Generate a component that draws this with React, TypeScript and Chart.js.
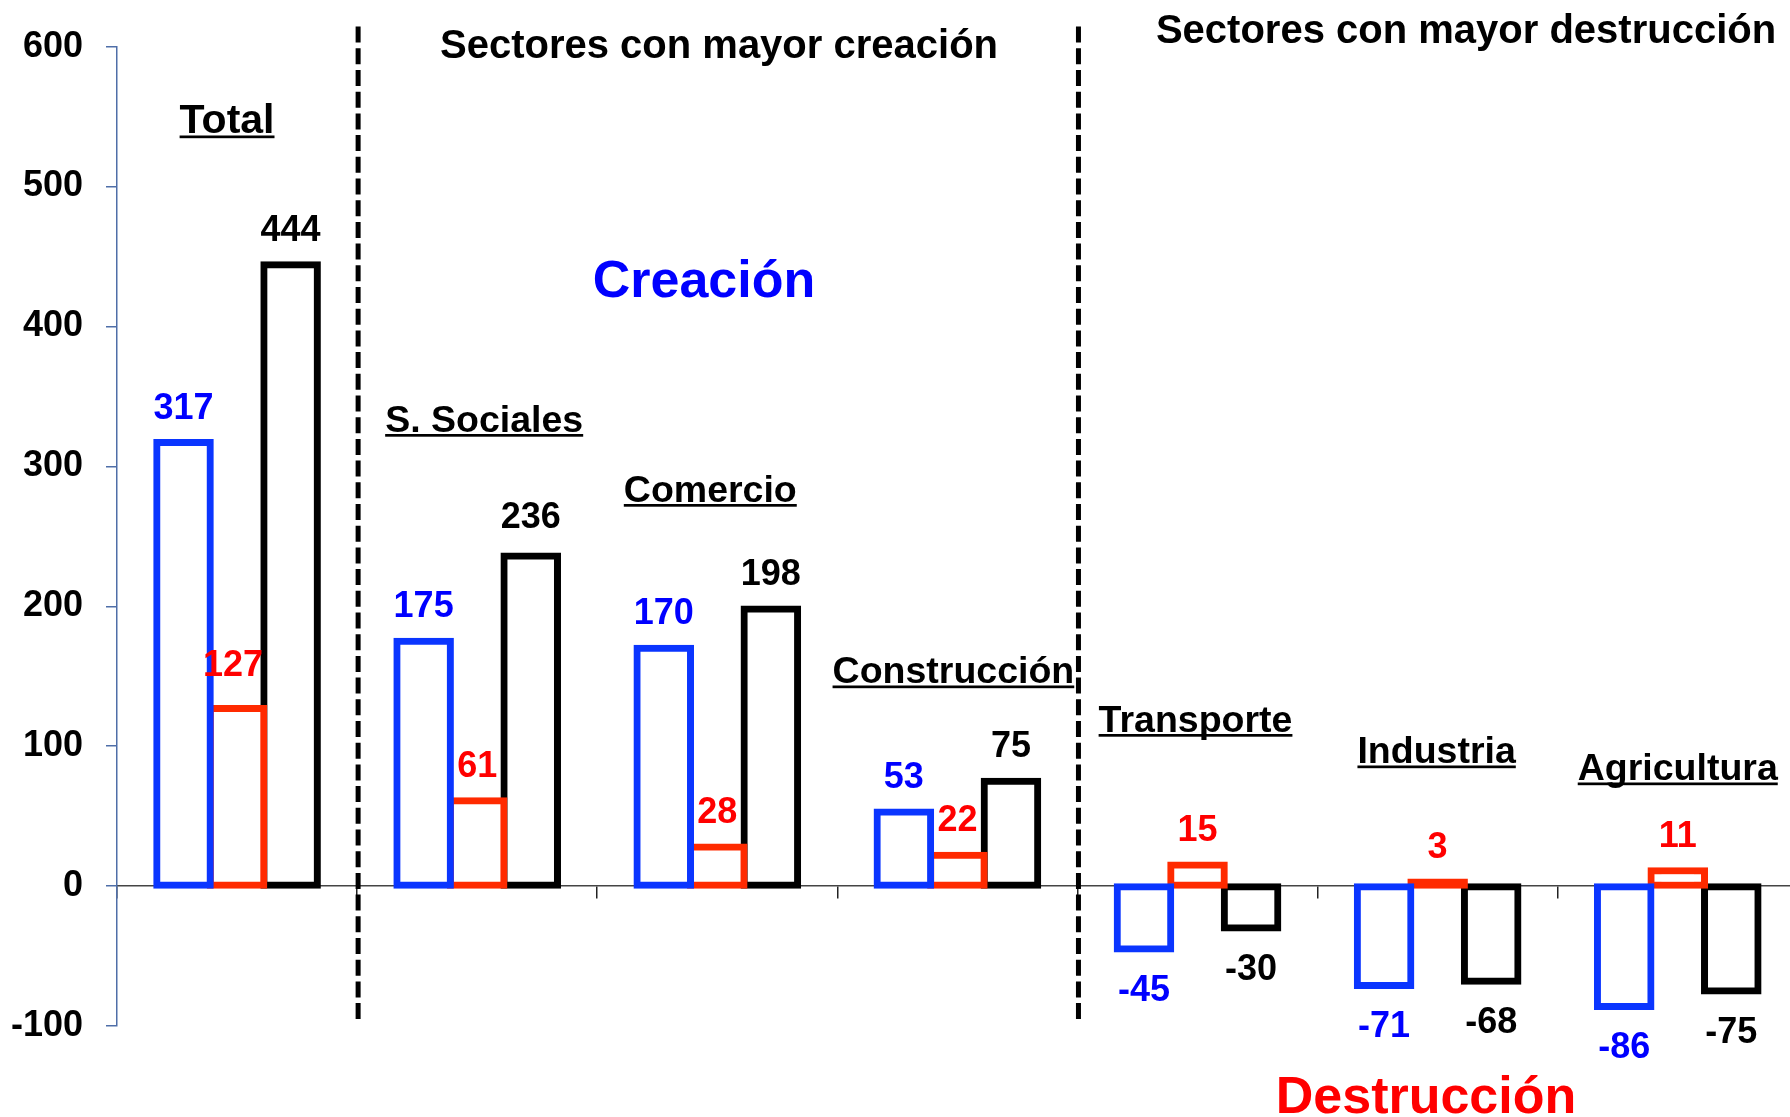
import React, { useEffect, useRef } from 'react';
import { Chart, registerables } from 'chart.js';

Chart.register(...registerables);

// ---------- data ----------
const categories = ['Total', 'S. Sociales', 'Comercio', 'Construcción', 'Transporte', 'Industria', 'Agricultura'];
const seriesBlue = [317, 175, 170, 53, -45, -71, -86];
const seriesRed = [127, 61, 28, 22, 15, 3, 11];
const seriesBlack = [444, 236, 198, 75, -30, -68, -75];
const seriesNames = ['Serie 1', 'Serie 2', 'Serie 3'];
const yMin = -100;
const yMax = 600;
const yStep = 100;
const headerCreation = 'Sectores con mayor creación';
const headerDestruction = 'Sectores con mayor destrucción';
const bigCreation = 'Creación';
const bigDestruction = 'Destrucción';

// ---------- styles / layout ----------
const FONT = '"Liberation Sans", Arial, Helvetica, sans-serif';
const barBorderColors = ['#0a35ff', '#ff2a00', '#000000'];
const labelColors = ['#0000ff', '#ff0000', '#000000'];
const titleLayout = [
  { dx: -10, baseline: 133, size: 41 },
  { dx: 7, baseline: 431.5, size: 37.5 },
  { dx: -7, baseline: 501.5, size: 37.5 },
  { dx: -4, baseline: 683, size: 37.5 },
  { dx: -2, baseline: 731.5, size: 37.5 },
  { dx: -1, baseline: 763, size: 37.5 },
  { dx: 0, baseline: 780, size: 37.5 },
];
// small manual nudges of individual value labels: key = "dataset-index"
const labelNudge: Record<string, { dx: number; dy: number }> = {
  '1-0': { dx: -4, dy: -8 },
  '2-1': { dx: 0, dy: -4 },
};

const CANVAS_W = 1800;
const CANVAS_H = 1117;

const overlayPlugin = {
  id: 'overlay',
  afterDatasetsDraw(chart: any) {
    const ctx = chart.ctx;
    const xs = chart.scales.x;
    const ys = chart.scales.y;
    const area = chart.chartArea;
    ctx.save();

    // dashed separators at category boundaries (between 0|1 and 3|4)
    const boundary = (i: number) => (xs.getPixelForValue(i - 1) + xs.getPixelForValue(i)) / 2;
    ctx.strokeStyle = '#000';
    ctx.lineWidth = 5;
    ctx.setLineDash([16, 5.7]);
    [1, 4].forEach((b) => {
      const bx = boundary(b) + 1;
      ctx.beginPath();
      ctx.moveTo(bx, area.top - 20);
      ctx.lineTo(bx, area.bottom - 2);
      ctx.stroke();
    });
    ctx.setLineDash([]);

    // value labels
    chart.data.datasets.forEach((ds: any, di: number) => {
      const meta = chart.getDatasetMeta(di);
      meta.data.forEach((bar: any, i: number) => {
        const v = ds.data[i];
        const py = ys.getPixelForValue(v);
        const n = labelNudge[`${di}-${i}`] || { dx: 0, dy: 0 };
        ctx.font = `bold 36px ${FONT}`;
        ctx.fillStyle = labelColors[di];
        ctx.textAlign = 'center';
        ctx.textBaseline = 'alphabetic';
        const ty = v >= 0 ? py - 24 : py + 52;
        ctx.fillText(String(v), bar.x + n.dx, ty + n.dy);
      });
    });

    // category titles, underlined
    categories.forEach((name, i) => {
      const t = titleLayout[i];
      const cx = xs.getPixelForValue(i) + t.dx;
      ctx.font = `bold ${t.size}px ${FONT}`;
      ctx.fillStyle = '#000';
      ctx.textAlign = 'center';
      ctx.textBaseline = 'alphabetic';
      ctx.fillText(name, cx, t.baseline);
      const w = ctx.measureText(name).width;
      ctx.fillRect(cx - w / 2, t.baseline + 2.5, w, 2.7);
    });

    // section headers
    ctx.font = `bold 40px ${FONT}`;
    ctx.fillStyle = '#000';
    ctx.textAlign = 'center';
    ctx.fillText(headerCreation, 719, 58);
    ctx.fillText(headerDestruction, 1466, 43);

    // big labels
    ctx.font = `bold 52px ${FONT}`;
    ctx.fillStyle = '#0000ff';
    ctx.fillText(bigCreation, 704, 297);
    ctx.fillStyle = '#ff0000';
    ctx.fillText(bigDestruction, 1426, 1113);

    ctx.restore();
  },
};

export default function App() {
  const ref = useRef<HTMLCanvasElement | null>(null);

  useEffect(() => {
    if (!ref.current) return;
    Chart.defaults.font.family = FONT;
    const seriesData = [seriesBlue, seriesRed, seriesBlack];
    const chart = new Chart(ref.current, {
      type: 'bar',
      data: {
        labels: categories,
        datasets: seriesData.map((d, di) => ({
          label: seriesNames[di],
          data: d,
          borderColor: barBorderColors[di],
          backgroundColor: (c: any) =>
            Math.abs(c.raw ?? 0) < 5 ? barBorderColors[di] : '#ffffff',
          borderWidth: 7,
          borderSkipped: false,
          inflateAmount: 3.5,
          categoryPercentage: 0.669,
          barPercentage: 1,
        })),
      },
      options: {
        animation: false,
        responsive: false,
        devicePixelRatio: 1,
        layout: { padding: { left: 0, right: 2.2, top: 46.6, bottom: 91 } },
        plugins: {
          legend: { display: false },
          tooltip: { enabled: false },
        },
        scales: {
          x: {
            type: 'category',
            position: { y: 0 } as any,
            offset: true,
            afterFit: (s: any) => {
              s.height = 0;
            },
            ticks: { display: false },
            grid: {
              display: true,
              offset: true,
              drawOnChartArea: false,
              drawTicks: true,
              tickLength: 12,
              color: '#222',
              lineWidth: 1.5,
            },
            border: { display: true, color: '#444', width: 1.5 },
          },
          y: {
            min: yMin,
            max: yMax,
            afterFit: (s: any) => {
              s.width = 117;
            },
            ticks: {
              stepSize: yStep,
              color: '#000',
              font: { size: 36, weight: 'bold', family: FONT },
              padding: 23,
            },
            grid: {
              drawOnChartArea: false,
              drawTicks: true,
              tickLength: 11,
              color: '#4f6ea8',
              lineWidth: 1.5,
            },
            border: { display: true, color: '#4f6ea8', width: 1.5 },
          },
        },
      },
      plugins: [overlayPlugin],
    } as any);
    return () => chart.destroy();
  }, []);

  return (
    <div
      style={{
        position: 'fixed',
        left: 0,
        top: 0,
        width: 1790,
        height: 1117,
        overflow: 'hidden',
        background: '#fff',
      }}
    >
      <canvas ref={ref} width={CANVAS_W} height={CANVAS_H} style={{ display: 'block' }} />
    </div>
  );
}
